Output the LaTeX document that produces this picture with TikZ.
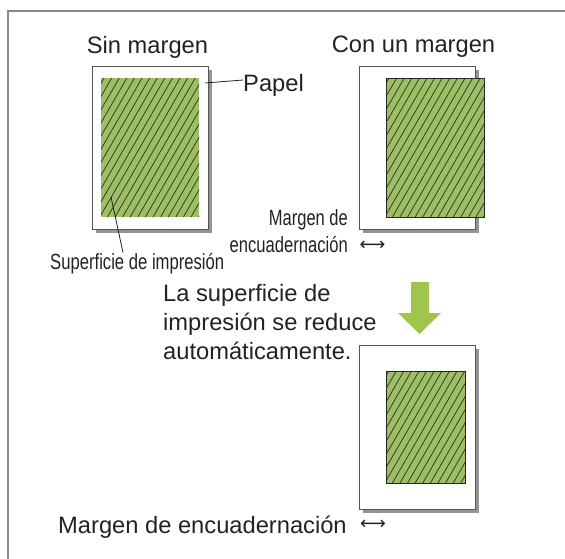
\documentclass[tikz,border=0pt]{standalone}
\usepackage{fontspec}
\setmainfont{Liberation Sans}
\newfontfamily\arrowfont{DejaVu Sans}
\usepackage{graphicx}
\definecolor{areagreen}{HTML}{9CBF62}
\definecolor{arrowgreen}{HTML}{9FC54C}
\definecolor{framegray}{HTML}{8A8A8A}
\definecolor{shadowgray}{HTML}{949494}
\definecolor{edgegray}{HTML}{555555}
\definecolor{txt}{HTML}{222222}
\tikzset{
  big/.style={font=\fontsize{23.7}{29}\selectfont, text=txt, inner sep=0pt},
  narrow/.style={font=\fontsize{22}{26}\selectfont, text=txt, inner sep=0pt},
  lrarrow/.style={font=\arrowfont\fontsize{18}{18}\selectfont, text=txt, inner sep=0pt},
  paper/.style={draw=edgegray, line width=0.9pt, fill=white},
  shadow/.style={fill=shadowgray, draw=none},
  leader/.style={draw=txt, line width=0.8pt},
  hatch/.style={draw=black!80, line width=0.75pt},
}
\newcommand{\hatchrect}[4]{% x0 y0 x1 y1 (y downward)
  \fill[areagreen] (#1,#2) rectangle (#3,#4);
  \begin{scope}
    \clip (#1,#2) rectangle (#3,#4);
    \foreach \k in {-20,...,40} {
      \draw[hatch] ({#1+\k*7.6-100},#4) -- ++(160,-277);
    }
  \end{scope}
}
\begin{document}
\begin{tikzpicture}[x=1pt,y=-1pt]
\useasboundingbox (0,0) rectangle (565,558);
% frame (top and left edges)
\draw[framegray, line width=1.6pt] (8,560) -- (8,11) -- (566,11);

% ---------- paper 1 ----------
\fill[shadow] (96,70) rectangle (212,233);
\node[paper, minimum width=116pt, minimum height=163pt, anchor=north west, inner sep=0pt] (p1) at (92,66) {};
\hatchrect{101}{78}{199}{217}
\node[inner sep=0pt, minimum width=98pt, minimum height=139pt, anchor=north west] (g1) at (101,78) {};

% ---------- paper 2 ----------
\fill[shadow] (363,70) rectangle (479,233);
\node[paper, minimum width=116pt, minimum height=163pt, anchor=north west, inner sep=0pt] (p2) at (359,66) {};
\hatchrect{386}{78}{484}{217}
\node[draw=black!85, line width=0.9pt, inner sep=0pt, minimum width=98pt, minimum height=139pt, anchor=north west] (g2) at (386,78) {};

% ---------- paper 3 ----------
\fill[shadow] (363,349) rectangle (479,513);
\node[paper, minimum width=116pt, minimum height=164pt, anchor=north west, inner sep=0pt] (p3) at (359,345) {};
\hatchrect{386}{371}{465}{483}
\node[draw=black!85, line width=0.9pt, inner sep=0pt, minimum width=79pt, minimum height=112pt, anchor=north west] (g3) at (386,371) {};

% ---------- green arrow ----------
\fill[arrowgreen] (411,282) -- (429,282) -- (429,313) -- (441,313) -- (419.5,334) -- (398,313) -- (411,313) -- cycle;

% ---------- texts ----------
\node[big, anchor=base] (t1) at (147.5,53) {Sin margen};
\node[big, anchor=base] (t2) at (413.5,52.7) {Con un margen};
\node[big, anchor=base west] (papel) at (243,91) {Papel};
\node[narrow, anchor=base west] (sup) at (50,269) {\scalebox{0.757}[1]{Superficie de impresión}};

\node[narrow, anchor=base east] (m1) at (348,225) {\scalebox{0.75}[1]{Margen de}};
\node[narrow, anchor=base east] (m2) at (348,252) {\scalebox{0.755}[1]{encuadernación}};
\node[lrarrow, anchor=center] (a1) at (372.5,246) {⟷};

\node[big, anchor=base west] (r1) at (163,301) {La superficie de};
\node[big, anchor=base west] (r2) at (163,330) {impresión se reduce};
\node[big, anchor=base west] (r3) at (163,359) {automáticamente.};

\node[big, anchor=base west] (m3) at (58,533) {Margen de encuadernación};
\node[lrarrow, anchor=center] (a2) at (373,525) {⟷};

% ---------- leaders ----------
\coordinate (pp) at (205,83);
\coordinate (sp) at (111,197);
\draw[leader] (pp) -- (papel.west |- 0,80);
\draw[leader] (sp) -- (sup.north -| 123,0);
\end{tikzpicture}
\end{document}
